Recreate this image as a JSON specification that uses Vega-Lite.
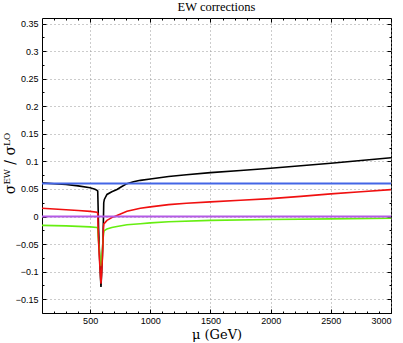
{
  "$schema": "https://vega.github.io/schema/vega-lite/v6.json",
  "width": 349,
  "height": 295,
  "autosize": {"type": "none"},
  "padding": {"left": 42, "top": 18, "right": 12, "bottom": 30},
  "background": "white",
  "title": {"text": "EW corrections", "font": "Liberation Serif", "fontSize": 12.5, "fontWeight": "normal", "color": "#000", "offset": 4},
  "config": {
    "view": {"stroke": "#000", "strokeWidth": 1},
    "axis": {"domain": false, "tickColor": "#000", "labelColor": "#000", "labelFont": "Liberation Sans", "labelFontSize": 9, "titleColor": "#000", "titleFont": "DejaVu Serif", "titleFontSize": 12, "titleFontWeight": "normal"}
  },
  "datasets": {
    "curves": [
      {"s": "black", "x": 100, "y": 0.061}, {"s": "black", "x": 200, "y": 0.0595}, {"s": "black", "x": 300, "y": 0.058}, {"s": "black", "x": 400, "y": 0.0555}, {"s": "black", "x": 500, "y": 0.052}, {"s": "black", "x": 540, "y": 0.0495}, {"s": "black", "x": 557, "y": 0.0475}, {"s": "black", "x": 563, "y": 0.046}, {"s": "black", "x": 566, "y": 0.02}, {"s": "black", "x": 570, "y": -0.02}, {"s": "black", "x": 578, "y": -0.07}, {"s": "black", "x": 585, "y": -0.105}, {"s": "black", "x": 590, "y": -0.128}, {"s": "black", "x": 595, "y": -0.105}, {"s": "black", "x": 602, "y": -0.07}, {"s": "black", "x": 608, "y": -0.03}, {"s": "black", "x": 611, "y": 0.0}, {"s": "black", "x": 613, "y": 0.025}, {"s": "black", "x": 618, "y": 0.031}, {"s": "black", "x": 640, "y": 0.04}, {"s": "black", "x": 680, "y": 0.045}, {"s": "black", "x": 723, "y": 0.049}, {"s": "black", "x": 760, "y": 0.054}, {"s": "black", "x": 806, "y": 0.0596}, {"s": "black", "x": 860, "y": 0.063}, {"s": "black", "x": 917, "y": 0.0656}, {"s": "black", "x": 1000, "y": 0.068}, {"s": "black", "x": 1152, "y": 0.0725}, {"s": "black", "x": 1300, "y": 0.0758}, {"s": "black", "x": 1500, "y": 0.0795}, {"s": "black", "x": 1750, "y": 0.0835}, {"s": "black", "x": 2000, "y": 0.0875}, {"s": "black", "x": 2250, "y": 0.092}, {"s": "black", "x": 2500, "y": 0.0965}, {"s": "black", "x": 2750, "y": 0.1015}, {"s": "black", "x": 3000, "y": 0.1065},
      {"s": "red", "x": 100, "y": 0.015}, {"s": "red", "x": 200, "y": 0.0137}, {"s": "red", "x": 300, "y": 0.0123}, {"s": "red", "x": 400, "y": 0.011}, {"s": "red", "x": 500, "y": 0.0093}, {"s": "red", "x": 557, "y": 0.0077}, {"s": "red", "x": 563, "y": 0.006}, {"s": "red", "x": 566, "y": -0.02}, {"s": "red", "x": 570, "y": -0.045}, {"s": "red", "x": 578, "y": -0.08}, {"s": "red", "x": 585, "y": -0.105}, {"s": "red", "x": 590, "y": -0.122}, {"s": "red", "x": 595, "y": -0.105}, {"s": "red", "x": 602, "y": -0.075}, {"s": "red", "x": 608, "y": -0.04}, {"s": "red", "x": 611, "y": -0.02}, {"s": "red", "x": 614, "y": -0.013}, {"s": "red", "x": 620, "y": -0.012}, {"s": "red", "x": 640, "y": -0.007}, {"s": "red", "x": 680, "y": -0.002}, {"s": "red", "x": 723, "y": 0.002}, {"s": "red", "x": 806, "y": 0.0095}, {"s": "red", "x": 917, "y": 0.015}, {"s": "red", "x": 1000, "y": 0.0175}, {"s": "red", "x": 1152, "y": 0.0215}, {"s": "red", "x": 1300, "y": 0.024}, {"s": "red", "x": 1500, "y": 0.0265}, {"s": "red", "x": 1750, "y": 0.0295}, {"s": "red", "x": 2000, "y": 0.0325}, {"s": "red", "x": 2250, "y": 0.0365}, {"s": "red", "x": 2500, "y": 0.041}, {"s": "red", "x": 2750, "y": 0.045}, {"s": "red", "x": 3000, "y": 0.0487},
      {"s": "green", "x": 100, "y": -0.016}, {"s": "green", "x": 300, "y": -0.017}, {"s": "green", "x": 500, "y": -0.0188}, {"s": "green", "x": 557, "y": -0.02}, {"s": "green", "x": 563, "y": -0.021}, {"s": "green", "x": 566, "y": -0.035}, {"s": "green", "x": 570, "y": -0.045}, {"s": "green", "x": 578, "y": -0.065}, {"s": "green", "x": 585, "y": -0.08}, {"s": "green", "x": 590, "y": -0.09}, {"s": "green", "x": 595, "y": -0.08}, {"s": "green", "x": 602, "y": -0.06}, {"s": "green", "x": 608, "y": -0.04}, {"s": "green", "x": 612, "y": -0.03}, {"s": "green", "x": 616, "y": -0.026}, {"s": "green", "x": 640, "y": -0.0225}, {"s": "green", "x": 680, "y": -0.02}, {"s": "green", "x": 723, "y": -0.018}, {"s": "green", "x": 806, "y": -0.015}, {"s": "green", "x": 917, "y": -0.013}, {"s": "green", "x": 1000, "y": -0.0115}, {"s": "green", "x": 1152, "y": -0.0095}, {"s": "green", "x": 1500, "y": -0.007}, {"s": "green", "x": 2000, "y": -0.0055}, {"s": "green", "x": 2500, "y": -0.0043}, {"s": "green", "x": 3000, "y": -0.0033},
      {"s": "blue", "x": 100, "y": 0.06}, {"s": "blue", "x": 3000, "y": 0.06},
      {"s": "purple", "x": 100, "y": 0.0}, {"s": "purple", "x": 3000, "y": 0.0}
    ]
  },
  "data": {"name": "curves"},
  "resolve": {"axis": {"x": "independent", "y": "independent"}},
  "layer": [
    {
      "transform": [{"filter": "datum.s === 'black'"}],
      "mark": {"type": "line", "strokeWidth": 1.6, "clip": true},
      "encoding": {
        "x": {"field": "x", "type": "quantitative", "scale": {"domain": [100, 3000], "nice": false, "zero": false},
          "axis": {"orient": "bottom", "values": [500, 1000, 1500, 2000, 2500, 3000], "grid": true, "gridColor": "#999", "gridDash": [1, 3], "tickSize": -4, "labelPadding": 7, "title": "μ (GeV)", "titleFontSize": 13, "titlePadding": 3, "format": "d"}},
        "y": {"field": "y", "type": "quantitative", "scale": {"domain": [-0.175, 0.36], "nice": false, "zero": false},
          "axis": {"orient": "left", "values": [-0.15, -0.1, -0.05, 0, 0.05, 0.1, 0.15, 0.2, 0.25, 0.3, 0.35], "grid": true, "gridColor": "#999", "gridDash": [1, 3], "tickSize": -4, "labelPadding": 8, "format": "~g", "title": "σᴱᵂ / σᴸᴼ", "titleFontSize": 14, "titleBaseline": "middle", "titleX": -32, "titleY": 145}},
        "color": {"field": "s", "type": "nominal", "scale": {"domain": ["black", "red", "green", "blue", "purple"], "range": ["#000000", "#f01010", "#66ee11", "#4466e6", "#b45ae6"]}, "legend": null}
      }
    },
    {
      "transform": [{"filter": "datum.s === 'green'"}],
      "mark": {"type": "line", "strokeWidth": 1.6, "clip": true},
      "encoding": {
        "x": {"field": "x", "type": "quantitative", "scale": {"domain": [100, 3000], "nice": false, "zero": false},
          "axis": {"orient": "bottom", "values": [200, 300, 400, 600, 700, 800, 900, 1100, 1200, 1300, 1400, 1600, 1700, 1800, 1900, 2100, 2200, 2300, 2400, 2600, 2700, 2800, 2900], "grid": false, "labels": false, "tickSize": -2, "title": null}},
        "y": {"field": "y", "type": "quantitative", "scale": {"domain": [-0.175, 0.36], "nice": false, "zero": false},
          "axis": {"orient": "left", "values": [-0.175, -0.125, -0.075, -0.025, 0.025, 0.075, 0.125, 0.175, 0.225, 0.275, 0.325], "grid": false, "labels": false, "tickSize": -2, "title": null}},
        "color": {"field": "s", "type": "nominal", "legend": null}
      }
    },
    {
      "transform": [{"filter": "datum.s === 'red'"}],
      "mark": {"type": "line", "strokeWidth": 1.6, "clip": true},
      "encoding": {
        "x": {"field": "x", "type": "quantitative", "scale": {"domain": [100, 3000], "nice": false, "zero": false},
          "axis": {"orient": "top", "values": [500, 1000, 1500, 2000, 2500, 3000], "grid": false, "labels": false, "tickSize": -4, "title": null}},
        "y": {"field": "y", "type": "quantitative", "scale": {"domain": [-0.175, 0.36], "nice": false, "zero": false},
          "axis": {"orient": "right", "values": [-0.15, -0.1, -0.05, 0, 0.05, 0.1, 0.15, 0.2, 0.25, 0.3, 0.35], "grid": false, "labels": false, "tickSize": -4, "title": null}},
        "color": {"field": "s", "type": "nominal", "legend": null}
      }
    },
    {
      "transform": [{"filter": "datum.s === 'blue' || datum.s === 'purple'"}],
      "mark": {"type": "line", "strokeWidth": 2, "clip": true},
      "encoding": {
        "x": {"field": "x", "type": "quantitative", "scale": {"domain": [100, 3000], "nice": false, "zero": false},
          "axis": {"orient": "top", "values": [200, 300, 400, 600, 700, 800, 900, 1100, 1200, 1300, 1400, 1600, 1700, 1800, 1900, 2100, 2200, 2300, 2400, 2600, 2700, 2800, 2900], "grid": false, "labels": false, "tickSize": -2, "title": null}},
        "y": {"field": "y", "type": "quantitative", "scale": {"domain": [-0.175, 0.36], "nice": false, "zero": false},
          "axis": {"orient": "right", "values": [-0.175, -0.125, -0.075, -0.025, 0.025, 0.075, 0.125, 0.175, 0.225, 0.275, 0.325], "grid": false, "labels": false, "tickSize": -2, "title": null}},
        "color": {"field": "s", "type": "nominal", "legend": null}
      }
    }
  ]
}
